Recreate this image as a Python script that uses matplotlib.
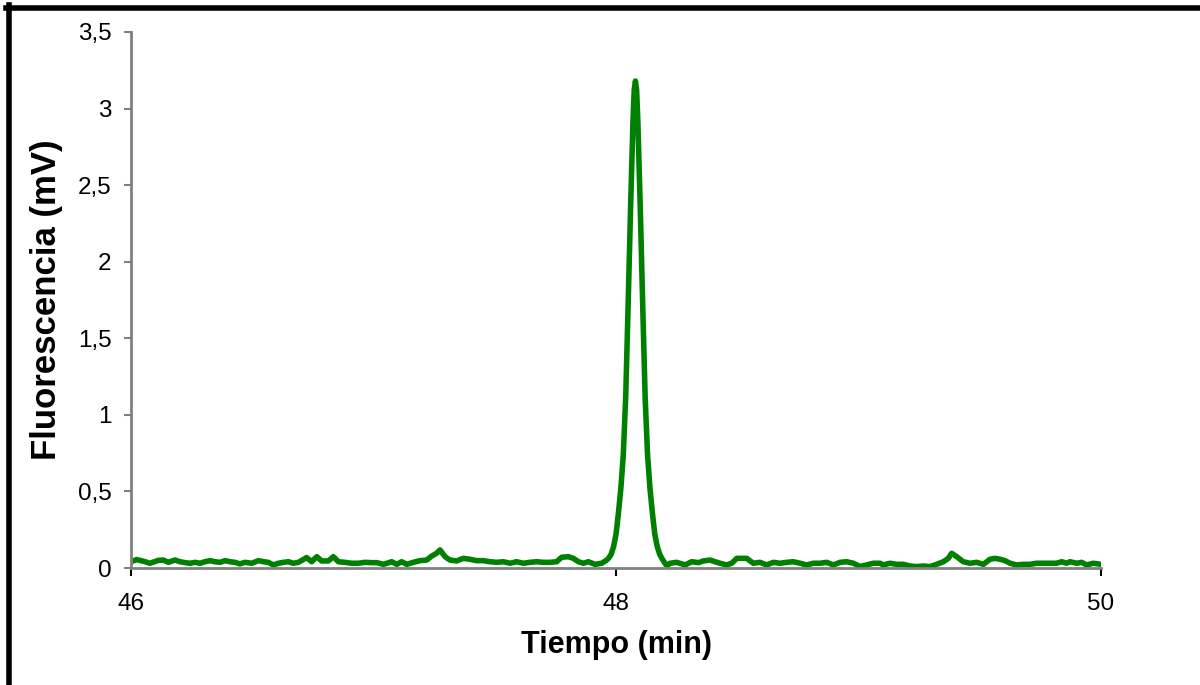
import matplotlib
matplotlib.use("Agg")
import matplotlib.pyplot as plt
from matplotlib.ticker import FuncFormatter, MultipleLocator
from matplotlib.lines import Line2D

plt.rcParams['font.family'] = ['Liberation Sans', 'DejaVu Sans']

# Chromatogram (time in min, signal in mV)
tiempo_pre = [46.000, 46.023, 46.058, 46.078, 46.113, 46.133, 46.154, 46.181, 46.202, 46.223,
              46.243, 46.264, 46.285, 46.305, 46.326, 46.346, 46.367, 46.388, 46.408, 46.429,
              46.449, 46.470, 46.498, 46.525, 46.546, 46.566, 46.587, 46.608, 46.628, 46.649,
              46.669, 46.690, 46.724, 46.745, 46.766, 46.786, 46.814, 46.834, 46.855, 46.882,
              46.910, 46.937, 46.965, 46.992, 47.013, 47.041, 47.075, 47.096, 47.116, 47.137,
              47.164, 47.192, 47.219, 47.240, 47.260, 47.274, 47.295, 47.315, 47.343, 47.370,
              47.398, 47.425, 47.453, 47.480, 47.508, 47.535, 47.563, 47.590, 47.618, 47.645,
              47.673, 47.700, 47.728, 47.755, 47.776, 47.803, 47.824, 47.845, 47.865, 47.886,
              47.913, 47.941]
senal_pre = [0.041, 0.055, 0.041, 0.031, 0.050, 0.052, 0.037, 0.052, 0.041, 0.035,
             0.031, 0.037, 0.031, 0.041, 0.048, 0.041, 0.037, 0.048, 0.041, 0.037,
             0.027, 0.037, 0.031, 0.048, 0.041, 0.037, 0.020, 0.031, 0.037, 0.041,
             0.031, 0.037, 0.068, 0.041, 0.074, 0.046, 0.046, 0.074, 0.041, 0.037,
             0.031, 0.031, 0.037, 0.035, 0.035, 0.024, 0.041, 0.024, 0.041, 0.024,
             0.037, 0.048, 0.052, 0.078, 0.096, 0.118, 0.074, 0.052, 0.046, 0.063,
             0.057, 0.048, 0.048, 0.041, 0.037, 0.041, 0.031, 0.041, 0.031, 0.037,
             0.041, 0.037, 0.037, 0.041, 0.070, 0.074, 0.063, 0.041, 0.031, 0.041,
             0.024, 0.031]

tiempo_pico = [47.96, 47.97, 47.98, 47.99, 48.00, 48.01, 48.02, 48.03, 48.04, 48.05,
               48.06, 48.07, 48.075, 48.08, 48.085, 48.09, 48.10, 48.11, 48.12, 48.13,
               48.14, 48.15, 48.16, 48.17, 48.18, 48.19, 48.20, 48.21]
senal_pico = [0.050, 0.065, 0.090, 0.140, 0.220, 0.360, 0.520, 0.740, 1.120, 1.720,
              2.350, 2.920, 3.120, 3.180, 3.120, 2.920, 2.350, 1.720, 1.120, 0.740,
              0.520, 0.360, 0.220, 0.140, 0.090, 0.060, 0.035, 0.015]

tiempo_post = [48.223, 48.250, 48.285, 48.312, 48.340, 48.360, 48.388, 48.408, 48.429, 48.456,
               48.477, 48.498, 48.539, 48.566, 48.594, 48.621, 48.649, 48.676, 48.704, 48.731,
               48.759, 48.786, 48.814, 48.841, 48.869, 48.896, 48.924, 48.951, 48.979, 49.006,
               49.034, 49.061, 49.089, 49.102, 49.130, 49.157, 49.185, 49.212, 49.240, 49.267,
               49.295, 49.322, 49.350, 49.370, 49.384, 49.405, 49.432, 49.460, 49.487, 49.515,
               49.542, 49.563, 49.584, 49.604, 49.625, 49.652, 49.680, 49.707, 49.735, 49.762,
               49.790, 49.817, 49.838, 49.858, 49.872, 49.900, 49.920, 49.941, 49.968, 50.000]
senal_post = [0.031, 0.037, 0.020, 0.041, 0.035, 0.046, 0.052, 0.041, 0.031, 0.020,
              0.031, 0.063, 0.063, 0.031, 0.037, 0.020, 0.037, 0.031, 0.037, 0.041,
              0.031, 0.020, 0.031, 0.031, 0.037, 0.020, 0.037, 0.041, 0.031, 0.010,
              0.020, 0.031, 0.031, 0.020, 0.031, 0.024, 0.024, 0.013, 0.009, 0.013,
              0.009, 0.024, 0.041, 0.063, 0.096, 0.074, 0.041, 0.031, 0.037, 0.024,
              0.057, 0.063, 0.057, 0.048, 0.031, 0.020, 0.024, 0.024, 0.031, 0.031,
              0.031, 0.031, 0.041, 0.031, 0.041, 0.031, 0.037, 0.020, 0.031, 0.024]

tiempo = tiempo_pre + tiempo_pico + tiempo_post
senal = senal_pre + senal_pico + senal_post

fig = plt.figure(figsize=(12, 6.85), dpi=100)
ax = fig.add_axes([0.1092, 0.1708, 0.8083, 0.7825])

ax.plot(tiempo, senal, color="#008000", linewidth=4, solid_joinstyle="round",
        solid_capstyle="round")

ax.set_xlim(46, 50)
ax.set_ylim(0, 3.5)
ax.xaxis.set_major_locator(MultipleLocator(2))
ax.yaxis.set_major_locator(MultipleLocator(0.5))
coma = FuncFormatter(lambda v, p: f"{v:g}".replace(".", ","))
ax.xaxis.set_major_formatter(coma)
ax.yaxis.set_major_formatter(coma)

for s in ["top", "right"]:
    ax.spines[s].set_visible(False)
for s in ["left", "bottom"]:
    ax.spines[s].set_color("#808080")
    ax.spines[s].set_linewidth(2)

ax.tick_params(axis="y", direction="out", length=5, width=1.5, color="#808080",
               labelsize=17.5, pad=9)
ax.tick_params(axis="x", direction="out", length=6, width=1.5, color="black",
               labelsize=17.5, pad=12)

ax.set_xlabel("Tiempo (min)", fontsize=22, fontweight="bold", labelpad=11)
ax.set_ylabel("Fluorescencia (mV)", fontsize=25, fontweight="bold", labelpad=11)

# outer chart border (top and left edges visible in the reference)
fig.add_artist(Line2D([6 / 1200, 1], [1 - 7.5 / 685, 1 - 7.5 / 685],
                      transform=fig.transFigure, color="black", linewidth=4))
fig.add_artist(Line2D([8.5 / 1200, 8.5 / 1200], [0, 1 - 5 / 685],
                      transform=fig.transFigure, color="black", linewidth=4))

fig.savefig("out.png", dpi=100)
